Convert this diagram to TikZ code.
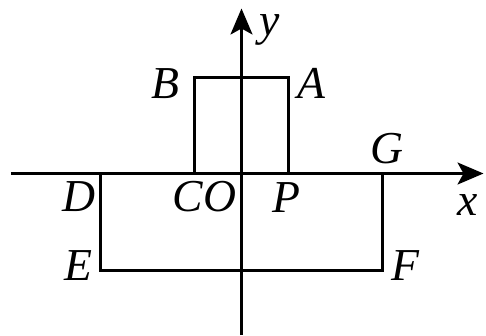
\documentclass[tikz,border=0pt]{standalone}
\usepackage{fontspec}
\setmainfont{Liberation Serif}
\usetikzlibrary{arrows.meta}

\begin{document}
\begin{tikzpicture}[x=0.02cm,y=0.02cm]

		\tikzset{
			axis/.style={
				line width=1.5pt,
				-{Stealth[length=0.52cm,width=0.44cm,inset=0.12cm]}
			},
			edge/.style={line width=1.5pt},
			lbl/.style={
				font=\fontsize{26}{30}\selectfont\itshape,
				inner sep=0pt
			}
		}

		\useasboundingbox (-241.5,-161.5) rectangle (244.5,173.5);

		\coordinate (O) at (0,0);
		\coordinate (xl) at (-230.5,0);
		\coordinate (xr) at (242,0);
		\coordinate (yb) at (0,-161.5);
		\coordinate (yt) at (0,165);

		% corners of the two rectangles
		\coordinate (cA) at (47,96);
		\coordinate (cB) at (-47,96);
		\coordinate (cC) at (-47,0);
		\coordinate (cP) at (47,0);
		\coordinate (cD) at (-141,0);
		\coordinate (cE) at (-141,-97);
		\coordinate (cF) at (141,-97);
		\coordinate (cG) at (141,0);

		\draw[edge] (cC) -- (cB) -- (cA) -- (cP);
		\draw[edge] (cD) -- (cE) -- (cF) -- (cG);

		\draw[axis] (xl) -- (xr);
		\draw[axis] (yb) -- (yt);

		\node[lbl] (x) at (226.5,-31.5) {x};
		\node[lbl] (y) at (28.5,144) {y};

		\node[lbl] (A) at (69.5,90) {A};
		\node[lbl] (B) at (-76,90) {B};
		\node[lbl] (CO) at (-37,-23.5) {CO};
		\node[lbl] (P) at (45,-24.5) {P};
		\node[lbl] (D) at (-163,-23) {D};
		\node[lbl] (E) at (-163,-92) {E};
		\node[lbl] (F) at (163.5,-92) {F};
		\node[lbl] (G) at (145.5,24.5) {G};

	\end{tikzpicture}
\end{document}
